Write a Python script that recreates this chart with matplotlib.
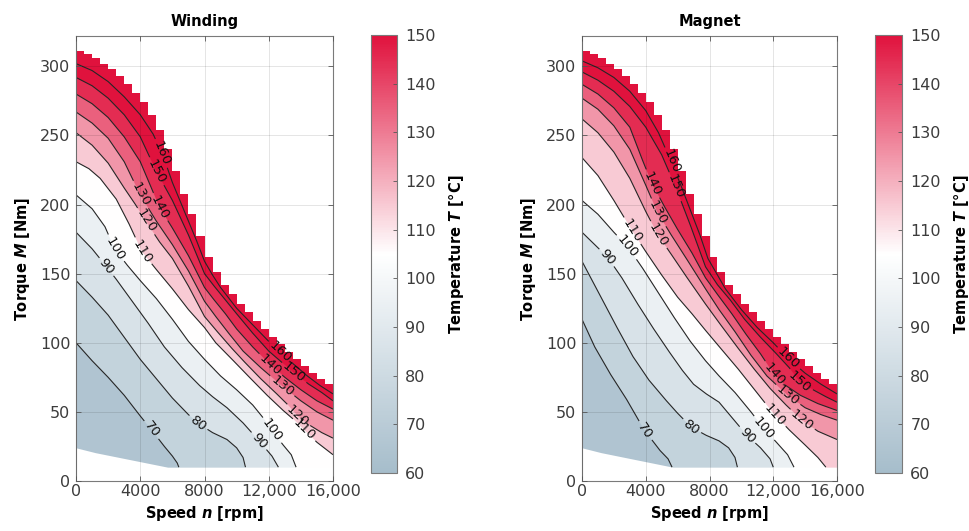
import numpy as np
import matplotlib
matplotlib.use("Agg")
import matplotlib.pyplot as plt
from matplotlib.colors import LinearSegmentedColormap, Normalize
from matplotlib.cm import ScalarMappable
from matplotlib.contour import ContourSet

plt.rcParams["font.family"] = ["DejaVu Sans"]
plt.rcParams["mathtext.fontset"] = "custom"
plt.rcParams["mathtext.it"] = "DejaVu Sans:italic:bold"
plt.rcParams["mathtext.rm"] = "DejaVu Sans:bold"

LEVELS = [70, 80, 90, 100, 110, 120, 130, 140, 150, 160]

# full-load limit: max torque per 500 rpm step
ENV_SPEED = np.arange(0, 16001, 500)
ENV_TORQUE = [311, 309, 306, 302, 298, 293, 287, 281, 274, 265, 254, 240, 224,
              208, 193, 177, 162, 151, 142, 135, 128, 122, 116, 110, 104, 99,
              93, 88, 83, 78, 74, 70, 67]

# lower edge of the operating region
LOW_SPEED = [0, 1200, 5700, 16000]
LOW_TORQUE = [24, 20.5, 10, 10]

# winding isotherms (speed rpm, torque Nm)
W70 = [(0, 100), (1000, 87), (2000, 75), (3000, 62), (4000, 47), (4700, 37),
       (5500, 25), (6000, 18), (6300, 13), (6400, 10)]
W80 = [(0, 145), (1000, 133), (2000, 120), (3000, 104), (4000, 88), (5000, 74),
       (6000, 60), (7000, 48), (7700, 41), (8500, 35), (9400, 30), (10000, 24),
       (10400, 17), (10550, 10)]
W90 = [(0, 180), (1000, 168), (1900, 155), (2500, 146), (3500, 130), (4500, 114),
       (5500, 97), (6600, 82), (7700, 69), (8500, 61), (9400, 53), (10400, 42),
       (11400, 29), (12200, 18), (12600, 10)]
W100 = [(0, 207), (1000, 197), (1800, 184), (2400, 168), (3200, 156), (4000, 145),
        (5000, 132), (6000, 117), (7000, 101), (8000, 88), (9000, 76), (10000, 66),
        (11000, 55), (11700, 45), (12300, 35), (12900, 26), (13400, 19), (13700, 10)]
W110 = [(0, 231), (800, 226), (1500, 219), (2500, 204), (3300, 186), (4100, 166),
        (5000, 153), (6000, 139), (7000, 124), (8000, 111), (8700, 100), (9800, 87),
        (10800, 75), (11900, 62), (12900, 51), (13600, 44), (14200, 37), (15000, 28),
        (16000, 19)]
W120 = [(0, 252), (1000, 243), (2000, 230), (3000, 212), (3700, 200), (4400, 187),
        (5200, 173), (6000, 161), (7000, 141), (8000, 119), (8800, 108), (9700, 96),
        (10500, 86), (11500, 74), (12500, 63), (13200, 55), (13800, 47), (14600, 40),
        (15300, 35), (16000, 31)]
W130 = [(0, 267), (1000, 259), (2000, 248), (3000, 231), (4000, 207), (5000, 188),
        (6000, 171), (7000, 152), (8000, 130), (8700, 119), (9500, 107), (10400, 94),
        (11500, 82), (12800, 69), (14000, 58), (15000, 50), (16000, 44)]
W140 = [(0, 280), (1000, 273), (2000, 263), (3000, 249), (4000, 231), (5200, 198),
        (6000, 183), (7000, 163), (8000, 140), (8600, 131), (9300, 121), (10000, 110),
        (11000, 97), (12100, 84), (13000, 75), (14000, 66), (15000, 58), (16000, 52)]
W150 = [(0, 292), (1000, 286), (2000, 277), (3000, 265), (4000, 249), (5000, 224),
        (6000, 203), (7000, 178), (8000, 150), (8600, 141), (9300, 131), (10000, 121),
        (11000, 107), (12000, 94), (13000, 84), (13600, 78), (14500, 70), (15300, 64),
        (16000, 58)]
W160 = [(0, 302), (1000, 297), (2000, 289), (3000, 278), (4000, 265), (4800, 251),
        (5400, 236), (6000, 216), (6500, 202), (7000, 188), (7500, 174), (8000, 159),
        (8500, 149), (9000, 140), (10000, 125), (11000, 113), (12000, 101),
        (12800, 92), (13600, 84), (14400, 76), (15200, 69), (16000, 63)]

# magnet isotherms (speed rpm, torque Nm)
M70 = [(0, 117), (800, 97), (1800, 77), (2800, 59), (3900, 37), (4900, 22),
       (5400, 16), (5650, 10)]
M80 = [(0, 159), (1100, 135), (2200, 111), (3200, 90), (4200, 73), (5300, 58),
       (6000, 49), (6850, 39), (7800, 33), (8600, 29), (9200, 24), (9600, 17),
       (9750, 10)]
M90 = [(0, 180), (800, 171), (1600, 162), (2500, 147), (3500, 128), (4500, 110),
       (5500, 93), (6300, 80), (7000, 70), (7800, 63), (8600, 57), (9400, 46),
       (10350, 33), (11200, 24), (11800, 16), (12000, 10)]
M100 = [(0, 203), (1000, 193), (2000, 180), (2900, 169), (3800, 154), (4800, 136),
        (5800, 118), (6800, 101), (7750, 87), (8600, 76), (9600, 64), (10600, 50),
        (11400, 38), (12200, 28), (12900, 19), (13300, 10)]
M110 = [(0, 234), (1000, 221), (2000, 203), (3150, 181), (4000, 166), (5000, 149),
        (6000, 133), (6900, 121), (7750, 109), (8700, 96), (9800, 81), (10900, 65),
        (12000, 49), (13000, 37), (14000, 26), (14800, 17), (15300, 10)]
M120 = [(0, 262), (1000, 252), (2000, 238), (3000, 219), (4000, 195), (4770, 178),
        (5600, 164), (6600, 147), (7750, 128), (8700, 113), (9800, 96), (10800, 81),
        (11800, 67), (12800, 55), (13800, 44), (14800, 36), (16000, 30)]
M130 = [(0, 277), (1000, 269), (2000, 257), (3000, 240), (4000, 214), (4750, 194),
        (5600, 178), (6600, 160), (7750, 139), (8600, 124), (9600, 108), (10600, 91),
        (11600, 76), (12900, 62), (14000, 53), (15000, 48), (16000, 44)]
M140 = [(0, 287), (1000, 280), (2000, 270), (3000, 256), (3800, 232), (4400, 215),
        (5200, 198), (6000, 182), (6900, 165), (7750, 147), (8500, 135), (9400, 121),
        (10300, 106), (11200, 92), (12000, 78), (12800, 69), (13700, 62), (14800, 56),
        (16000, 51)]
M150 = [(0, 296), (1000, 290), (2000, 282), (3000, 271), (4000, 256), (5000, 236),
        (5900, 212), (6800, 185), (7750, 155), (8500, 142), (9300, 131), (10200, 117),
        (11200, 104), (12200, 92), (13000, 82), (13650, 72), (14500, 66), (15300, 61),
        (16000, 57)]
M160 = [(0, 304), (1000, 299), (2000, 292), (3000, 282), (4000, 268), (4800, 252),
        (5600, 231), (6200, 214), (6800, 196), (7400, 178), (7900, 161), (8500, 149),
        (9000, 139), (10000, 124), (11000, 111), (12000, 100), (13000, 88),
        (14000, 78), (15000, 70), (16000, 63)]

winding = dict(zip(LEVELS, [W70, W80, W90, W100, W110, W120, W130, W140, W150, W160]))
magnet = dict(zip(LEVELS, [M70, M80, M90, M100, M110, M120, M130, M140, M150, M160]))

# speeds at which each isotherm gets its inline label
winding_labels = {70: [4700], 80: [7600], 90: [1900, 11400], 100: [2400, 12200],
                  110: [4100, 14200], 120: [4350, 13800], 130: [4000, 12830],
                  140: [5200, 12100], 150: [5000, 13570], 160: [5350, 12700]}
magnet_labels = {70: [3950], 80: [6850], 90: [1600, 10350], 100: [2850, 11400],
                 110: [3150, 12100], 120: [4770, 13800], 130: [4750, 12900],
                 140: [4400, 12050], 150: [5860, 13650], 160: [5600, 12950]}

cmap = LinearSegmentedColormap.from_list("temp", ["#a6bdcb", "#ffffff", "#e0123d"])
norm = Normalize(60, 150)

TICK_COLOR = "#3c3c3c"


def draw_map(ax, isotherms, label_at, title):
    # hottest band fills the whole region under the full-load limit
    ax.fill_between(ENV_SPEED, 0, ENV_TORQUE, step="post",
                    color=cmap(norm(LEVELS[-1] + 5)), lw=0)
    # cooler bands painted on top, from hot to cold
    for lev in LEVELS[::-1]:
        pts = np.array(isotherms[lev], dtype=float)
        xs = np.r_[pts[:, 0], pts[-1, 0], 0]
        ys = np.r_[pts[:, 1], 0, 0]
        ax.fill(xs, ys, color=cmap(norm(lev - 5)), lw=0)
    ax.fill_between(LOW_SPEED, 0, LOW_TORQUE, color="white", lw=0)

    segs = [[np.array(isotherms[lev], dtype=float)] for lev in LEVELS]
    cs = ContourSet(ax, LEVELS, segs, colors="#262626", linewidths=0.8)

    ax.set_xlim(0, 16000)
    ax.set_ylim(0, 322)
    ax.set_xticks([0, 4000, 8000, 12000, 16000],
                  ["0", "4000", "8000", "12,000", "16,000"])
    ax.set_yticks(range(0, 301, 50))
    ax.tick_params(direction="in", top=True, right=True, length=3.5, width=0.6,
                   color="#555555", labelcolor=TICK_COLOR, labelsize=11.5)
    ax.tick_params(axis="x", pad=2)
    ax.tick_params(axis="y", pad=4)
    ax.grid(True, color="k", alpha=0.12, lw=0.6)
    ax.set_axisbelow(False)
    for sp in ax.spines.values():
        sp.set_color("#7a7a7a")
        sp.set_linewidth(0.8)

    ax.set_title(title, fontsize=10.5, fontweight="bold", pad=7)
    ax.set_xlabel(r"Speed $n$ [rpm]", fontsize=10.5, fontweight="bold", labelpad=4)
    ax.set_ylabel(r"Torque $M$ [Nm]", fontsize=10.5, fontweight="bold", labelpad=6)

    spots = []
    for lev, speeds in label_at.items():
        pts = np.array(isotherms[lev], dtype=float)
        for s in speeds:
            spots.append((s, np.interp(s, pts[:, 0], pts[:, 1])))
    ax.clabel(cs, manual=spots, inline=True, inline_spacing=3, fmt="%d",
              fontsize=9.5, colors="#111111")


def draw_colorbar(cax):
    cb = fig.colorbar(ScalarMappable(norm=norm, cmap=cmap), cax=cax,
                      ticks=range(60, 151, 10))
    cb.outline.set_edgecolor("#7a7a7a")
    cb.outline.set_linewidth(0.8)
    cax.tick_params(direction="in", length=3, width=0.6, color="#555555",
                    labelcolor=TICK_COLOR, labelsize=11.5, pad=6)
    cb.set_label(r"Temperature $T$ [°C]", fontsize=10.5, fontweight="bold",
                 labelpad=8)


fig = plt.figure(figsize=(9.7, 5.31), dpi=100)
ax_w = fig.add_axes([0.0784, 0.0942, 0.2649, 0.8380])
cax_w = fig.add_axes([0.3825, 0.1092, 0.0268, 0.8249])
ax_m = fig.add_axes([0.6000, 0.0942, 0.2629, 0.8380])
cax_m = fig.add_axes([0.9021, 0.1092, 0.0278, 0.8249])

draw_map(ax_w, winding, winding_labels, "Winding")
draw_map(ax_m, magnet, magnet_labels, "Magnet")
draw_colorbar(cax_w)
draw_colorbar(cax_m)

fig.savefig("out.png", dpi=100)
